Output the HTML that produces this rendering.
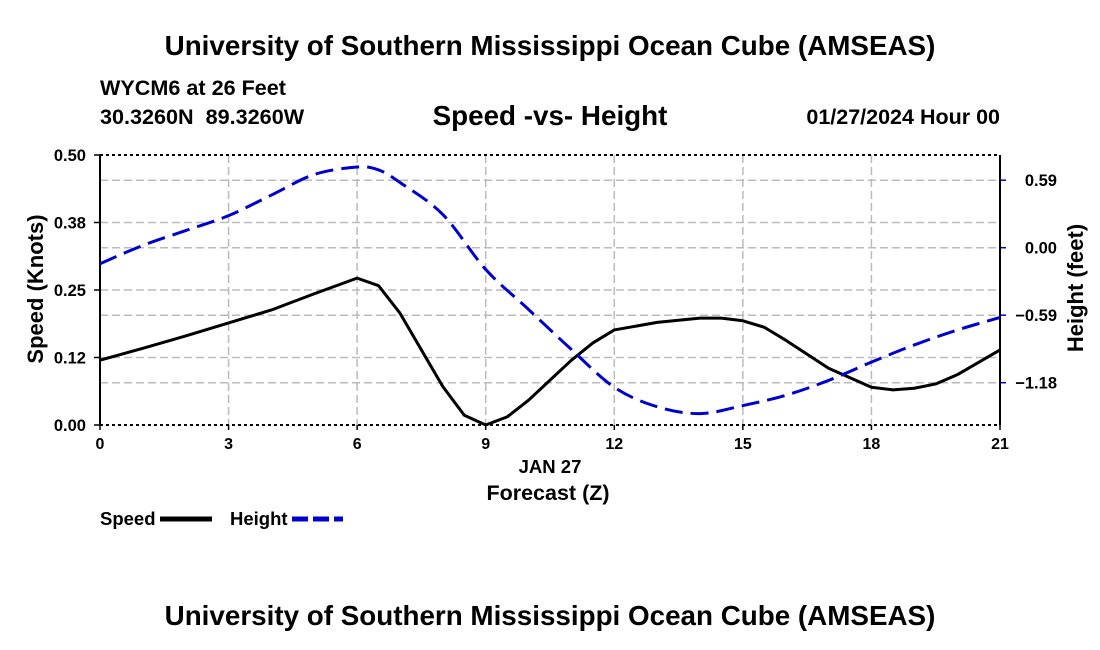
<!DOCTYPE html>
<html><head><meta charset="utf-8"><style>
body{margin:0;background:#fff;}
svg{display:block;font-family:"Liberation Sans",Arial,sans-serif;font-weight:bold;}
</style></head><body>
<svg width="1100" height="650" viewBox="0 0 1100 650">
<text x="550" y="55" text-anchor="middle" font-size="27.8">University of Southern Mississippi Ocean Cube (AMSEAS)</text>
<text x="100" y="95" font-size="21.6">WYCM6 at 26 Feet</text>
<text x="100" y="124" font-size="21.6" xml:space="preserve" style="white-space:pre">30.3260N  89.3260W</text>
<text x="550" y="125" text-anchor="middle" font-size="27.8">Speed -vs- Height</text>
<text x="1000" y="124" text-anchor="end" font-size="21.5">01/27/2024 Hour 00</text>
<g id="grid"></g>
<g id="axes"></g>
<g id="series"></g>
<text x="550" y="473" text-anchor="middle" font-size="18.5">JAN 27</text>
<text x="548" y="500" text-anchor="middle" font-size="21.5">Forecast (Z)</text>
<text transform="translate(43,289) rotate(-90)" text-anchor="middle" font-size="22">Speed (Knots)</text>
<text transform="translate(1083,288) rotate(-90)" text-anchor="middle" font-size="22">Height (feet)</text>
<g>
<text x="100" y="525" font-size="18.5">Speed</text>
<line x1="160" y1="519" x2="212" y2="519" stroke="#000" stroke-width="5"/>
<text x="230" y="525" font-size="18.5">Height</text>
<line x1="292" y1="519" x2="343" y2="519" stroke="#00c" stroke-width="5" stroke-dasharray="16,5"/>
</g>
<text x="550" y="625" text-anchor="middle" font-size="27.8">University of Southern Mississippi Ocean Cube (AMSEAS)</text>
</svg>
<script>
const hours=[0,1,2,3,4,5,6,6.5,7,8,8.5,9,9.5,10,11,11.5,12,13,14,14.5,15,15.5,16,17,18,18.5,19,19.5,20,21];
const speed=[0.12,0.142,0.165,0.189,0.213,0.243,0.272,0.258,0.207,0.071,0.018,0,0.015,0.046,0.12,0.152,0.176,0.19,0.198,0.198,0.193,0.181,0.157,0.105,0.07,0.065,0.068,0.076,0.093,0.139];
const hHours=[0,1,2,3,4,5,6,6.5,7,8,9,10,11,12,13,14,15,16,17,18,19,20,21];
const height=[-0.14,0.02,0.15,0.28,0.46,0.64,0.705,0.68,0.57,0.29,-0.19,-0.54,-0.89,-1.22,-1.39,-1.45,-1.38,-1.29,-1.16,-1.0,-0.85,-0.72,-0.61];
const xTicks=[0,3,6,9,12,15,18,21];
const speedTicks=[0,0.125,0.25,0.375,0.5];
const speedTickLabels=["0.00","0.12","0.25","0.38","0.50"];
const heightTicks=[0.59,0,-0.59,-1.18];
const heightTickLabels=["0.59","0.00","\u22120.59","\u22121.18"];
const NS="http://www.w3.org/2000/svg";
const L=100,R=1000,T=155,B=425;
const x=h=>L+(h/21)*(R-L);
const yS=v=>B-(v/0.5)*(B-T);
const yH=v=>247.7-(v/0.59)*67.5;
function mk(tag,attrs,parent){const e=document.createElementNS(NS,tag);for(const k in attrs)e.setAttribute(k,attrs[k]);parent.appendChild(e);return e;}
function smooth(pts){let d='M'+pts[0][0]+','+pts[0][1];for(let i=0;i<pts.length-1;i++){const p0=pts[i-1]||pts[i],p1=pts[i],p2=pts[i+1],p3=pts[i+2]||p2;
 const c1=[p1[0]+(p2[0]-p0[0])/6,p1[1]+(p2[1]-p0[1])/6],c2=[p2[0]-(p3[0]-p1[0])/6,p2[1]-(p3[1]-p1[1])/6];
 d+=' C'+c1.join(',')+' '+c2.join(',')+' '+p2.join(',');}return d;}
const grid=document.getElementById('grid'),axes=document.getElementById('axes'),series=document.getElementById('series');
xTicks.forEach(t=>{
 if(t>0&&t<21){const g=mk('line',{x1:x(t),x2:x(t),y1:T,y2:B,stroke:'#bbb','stroke-width':1.5,'stroke-dasharray':'8,4'},grid);
 
 }
 const tk=mk('line',{x1:x(t),x2:x(t),y1:B,y2:B+5,stroke:'#000','stroke-width':1.5},axes);
 
 
 const lb=mk('text',{x:x(t),y:B+24,'text-anchor':'middle','font-size':16},axes);lb.textContent=t;
 
 
});
speedTicks.forEach((t,i)=>{
 if(t>0&&t<0.5){const g=mk('line',{x1:L,x2:R,y1:yS(t),y2:yS(t),stroke:'#bbb','stroke-width':1.5,'stroke-dasharray':'8,4'},grid);
 
 }
 const tk=mk('line',{x1:L-6,x2:L,y1:yS(t),y2:yS(t),stroke:'#000','stroke-width':1.5},axes);
 
 
 const lb=mk('text',{x:L-14,y:yS(t)+6,'text-anchor':'end','font-size':16.5},axes);lb.textContent=speedTickLabels[i];
 
 
});
heightTicks.forEach((t,i)=>{
 const g=mk('line',{x1:L,x2:R,y1:yH(t),y2:yH(t),stroke:'#bbb','stroke-width':1.5,'stroke-dasharray':'8,4'},grid);
 
 
 const tk=mk('line',{x1:R,x2:R+6,y1:yH(t),y2:yH(t),stroke:'#00c','stroke-width':1.5},axes);
 
 
 const lb=mk('text',{x:1057,y:yH(t)+6,'text-anchor':'end','font-size':16.5},axes);lb.textContent=heightTickLabels[i];
 
 
});
[[L,T,R,T],[L,B,R,B]].forEach(a=>{const l=mk('line',{x1:a[0],y1:a[1],x2:a[2],y2:a[3],stroke:'#000','stroke-width':2,'stroke-dasharray':'3,3'},axes);
 
 });
[[L,T,L,B],[R,T,R,B]].forEach(a=>{const l=mk('line',{x1:a[0],y1:a[1],x2:a[2],y2:a[3],stroke:'#000','stroke-width':2},axes);
 
 });
const sp=mk('polyline',{points:hours.map((h,i)=>x(h)+','+yS(speed[i])).join(' '),fill:'none',stroke:'#000','stroke-width':3,'stroke-linejoin':'round'},series);


const ht=mk('path',{d:smooth(hHours.map((h,i)=>[x(h),yH(height[i])])),fill:'none',stroke:'#00c','stroke-width':3,'stroke-dasharray':'18,8','stroke-linejoin':'round'},series);


</script>
</body></html>
